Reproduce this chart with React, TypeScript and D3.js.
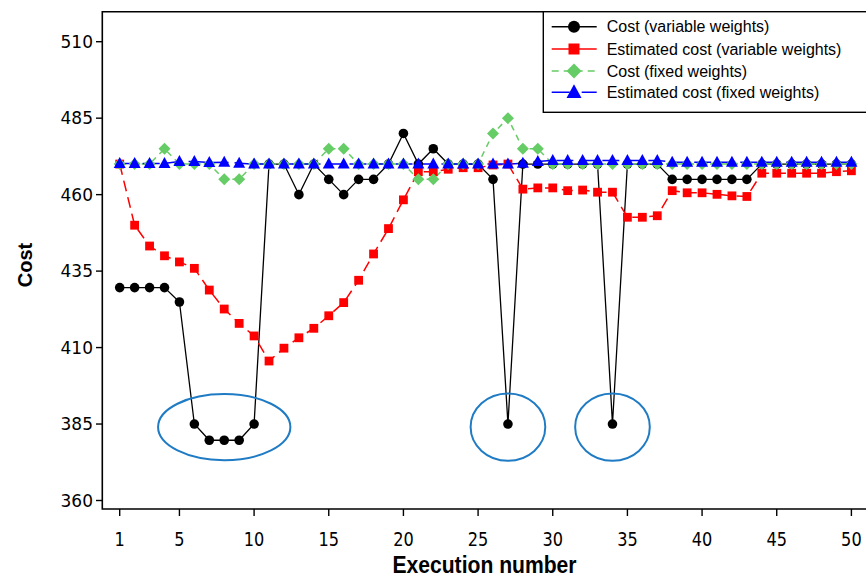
import React from "react";
import * as d3 from "d3";

const executions = d3.range(1, 51);

const costVariable = [
  429.6, 429.6, 429.6, 429.6, 424.9, 385, 379.7, 379.7, 379.7, 385,
  470, 470, 460, 470, 465, 460, 465, 465, 470, 480,
  470, 475, 470, 470, 470, 465, 385, 470, 470, 470,
  470, 470, 470, 385, 470, 470, 470, 465, 465, 465,
  465, 465, 465, 470, 470, 470, 470, 470, 470, 470,
];

const estVariable = [
  470, 450, 443.2, 440, 438, 435.9, 428.8, 422.6, 417.9, 413.8,
  405.6, 409.8, 413.2, 416.3, 420.4, 424.7, 432, 440.6, 448.9, 458.3,
  467.5, 467.5, 468.3, 468.8, 468.8, 469.7, 470, 461.8, 462.2, 462.2,
  461.3, 461.5, 460.8, 460.8, 452.6, 452.6, 453.1, 461.3, 460.6, 460.6,
  460.1, 459.6, 459.4, 467, 467, 467, 467, 467, 467.5, 467.8,
];

const costFixed = [
  470, 470, 470, 475, 470, 470, 470, 465, 465, 470,
  470, 470, 470, 470, 475, 475, 470, 470, 470, 470,
  465, 465, 470, 470, 470, 480, 485, 475, 475, 470,
  470, 470, 470, 470, 470, 470, 470, 470, 470, 470,
  470, 470, 470, 470, 470, 470, 470, 470, 470, 470,
];

const estFixed = [
  470.2, 470.2, 470.2, 470.2, 470.8, 470.8, 470.5, 470.6, 470.3, 470,
  470, 470, 470, 470, 470, 470, 470, 470, 470, 470,
  470, 470, 470, 470, 470, 470, 470, 470.3, 470.8, 471.2,
  471.2, 471.2, 471.2, 471.2, 471.2, 471.2, 471.2, 470.6, 470.6, 470.6,
  470.6, 470.6, 470.6, 470.6, 470.6, 470.6, 470.6, 470.6, 470.6, 470.6,
];

const yTicks = [360, 385, 410, 435, 460, 485, 510];
const xTicks = [1, 5, 10, 15, 20, 25, 30, 35, 40, 45, 50];

const seriesNames = [
  "Cost (variable weights)",
  "Estimated cost (variable weights)",
  "Cost (fixed weights)",
  "Estimated cost (fixed weights)",
];

// highlighted regions: center execution, center cost, half-width (executions), half-height (cost)
const highlightX = [8, 27, 34];
const highlightY = [384, 384, 384];
const highlightRx = [4.43, 2.5, 2.5];
const highlightRy = [10.8, 11, 11];

const W = 866;
const H = 579;
const LEFT = 102.3;
const TOP = 11.7;
const BOTTOM = 509;

const x = d3.scaleLinear().domain([1, 50]).range([119.7, 851.4]);
const y = d3.scaleLinear().domain([360, 510]).range([500.5, 41.7]);

type Marker = "circle" | "square" | "diamond" | "triangle";

const styles = [
  { color: "#000000", dash: "none", marker: "circle" as Marker, width: 1.3 },
  { color: "#ff0000", dash: "11,6", marker: "square" as Marker, width: 1.5 },
  { color: "#66cc66", dash: "6,5", marker: "diamond" as Marker, width: 1.5 },
  { color: "#0000ff", dash: "17,6", marker: "triangle" as Marker, width: 1.5 },
];

const seriesData = [costVariable, estVariable, costFixed, estFixed];

function MarkerShape({ kind, cx, cy, color, s = 1 }: { kind: Marker; cx: number; cy: number; color: string; s?: number }) {
  if (kind === "circle") return <circle cx={cx} cy={cy} r={4.8 * s} fill={color} />;
  if (kind === "square") {
    const h = 4.4 * s;
    return <rect x={cx - h} y={cy - h} width={2 * h} height={2 * h} fill={color} />;
  }
  if (kind === "diamond") {
    const h = 6 * s;
    return <path d={`M${cx},${cy - h}L${cx + h},${cy}L${cx},${cy + h}L${cx - h},${cy}Z`} fill={color} />;
  }
  const hw = 6 * s;
  return (
    <path
      d={`M${cx},${cy - 6.5 * s}L${cx + hw},${cy + 4.5 * s}L${cx - hw},${cy + 4.5 * s}Z`}
      fill={color}
    />
  );
}

export default function App() {
  const line = d3
    .line<number>()
    .x((_, i) => x(executions[i]))
    .y((d) => y(d));

  const legendRows = [26.7, 49, 71, 92.3];

  return (
    <svg
      width={W}
      height={H}
      style={{ position: "absolute", left: 0, top: 0, background: "#fff" }}
      fontFamily="'Liberation Sans', Arial, sans-serif"
    >
      <rect x={0} y={0} width={W} height={H} fill="#fff" />

      {/* series lines */}
      {seriesData.map((data, si) => (
        <path
          key={"l" + si}
          d={line(data) || ""}
          fill="none"
          stroke={styles[si].color}
          strokeWidth={styles[si].width}
          strokeDasharray={styles[si].dash}
        />
      ))}
      {/* markers */}
      {seriesData.map((data, si) => (
        <g key={"m" + si}>
          {data.map((v, i) => (
            <MarkerShape
              key={i}
              kind={styles[si].marker}
              cx={x(executions[i])}
              cy={y(v)}
              color={styles[si].color}
            />
          ))}
        </g>
      ))}

      {/* highlight ellipses */}
      {highlightX.map((hx, i) => (
        <ellipse
          key={"e" + i}
          cx={x(hx)}
          cy={y(highlightY[i])}
          rx={x(hx + highlightRx[i]) - x(hx)}
          ry={y(highlightY[i]) - y(highlightY[i] + highlightRy[i])}
          fill="none"
          stroke="#1f7bc4"
          strokeWidth={2}
        />
      ))}

      {/* frame */}
      <path
        d={`M${W},${TOP}H${LEFT}V${BOTTOM}H${W}`}
        fill="none"
        stroke="#000"
        strokeWidth={1.6}
      />

      {/* y axis ticks */}
      {yTicks.map((t) => (
        <g key={"yt" + t}>
          <line x1={96} x2={LEFT} y1={y(t)} y2={y(t)} stroke="#000" strokeWidth={1.4} />
          <text
            x={93}
            y={y(t)}
            dy="0.36em"
            textAnchor="end"
            fontSize={17}
            fontFamily="'DejaVu Sans', Verdana, sans-serif"
            fill="#000"
          >
            {t}
          </text>
        </g>
      ))}

      {/* x axis ticks */}
      {xTicks.map((t) => (
        <g key={"xt" + t}>
          <line x1={x(t)} x2={x(t)} y1={BOTTOM} y2={BOTTOM + 7} stroke="#000" strokeWidth={1.4} />
          <text
            transform={`translate(${x(t)},546) scale(0.85,1)`}
            textAnchor="middle"
            fontSize={19}
            fontFamily="'DejaVu Sans', Verdana, sans-serif"
            fill="#000"
          >
            {t}
          </text>
        </g>
      ))}

      {/* axis titles */}
      <text
        transform="translate(484.5,573) scale(0.88,1)"
        textAnchor="middle"
        fontSize={24}
        fontWeight="bold"
      >
        Execution number
      </text>
      <text
        transform="translate(32,265) rotate(-90)"
        textAnchor="middle"
        fontSize={20}
        fontWeight="bold"
      >
        Cost
      </text>

      {/* legend */}
      <rect x={543.3} y={TOP} width={340} height={112.3 - TOP} fill="#fff" stroke="#000" strokeWidth={1.4} />
      {seriesNames.map((name, i) => (
        <g key={"lg" + i}>
          <line
            x1={551.7}
            x2={596.7}
            y1={legendRows[i]}
            y2={legendRows[i]}
            stroke={styles[i].color}
            strokeWidth={1.6}
            strokeDasharray={i === 2 ? "7,5" : i === 3 ? "18,12" : "none"}
          />
          <MarkerShape kind={styles[i].marker} cx={574} cy={legendRows[i]} color={styles[i].color} s={1.25} />
          <text x={606.7} y={legendRows[i]} dy="0.36em" fontSize={16} fill="#000">
            {name}
          </text>
        </g>
      ))}
    </svg>
  );
}
